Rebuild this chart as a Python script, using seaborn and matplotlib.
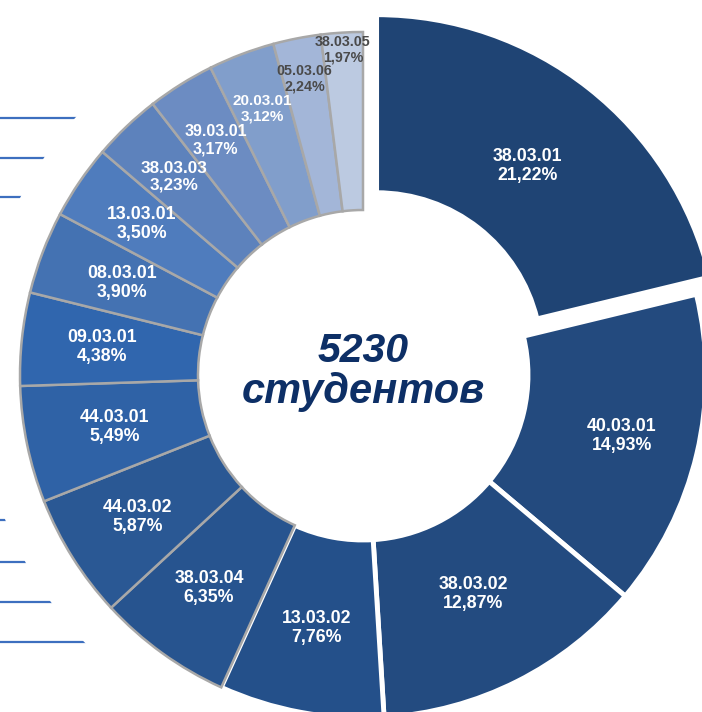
import matplotlib
matplotlib.use("Agg")
import numpy as np
import matplotlib.pyplot as plt
import seaborn as sns
from matplotlib.patches import Circle

# ---- data ----
codes = ["38.03.01", "40.03.01", "38.03.02", "13.03.02", "38.03.04", "44.03.02",
         "44.03.01", "09.03.01", "08.03.01", "13.03.01", "38.03.03", "39.03.01",
         "20.03.01", "05.03.06", "38.03.05"]
shares = [21.22, 14.93, 12.87, 7.76, 6.35, 5.87, 5.49, 4.38, 3.90, 3.50,
          3.23, 3.17, 3.12, 2.24, 1.97]
total_students = 5230
center_word = "студентов"

# ---- style ----
sns.set_theme(style="white")
plt.rcParams["font.family"] = ["Liberation Sans", "DejaVu Sans"]

palette = sns.color_palette([
    "#1f4474", "#234a7e", "#234b80", "#24508a", "#27548f", "#2a5894",
    "#2f62a6", "#3066ae", "#4472b2", "#4f7cbd", "#5d82bc", "#6c8cc2",
    "#819ecb", "#a3b6d8", "#bccae1"])
label_r = [244, 266, 245, 257, 263, 266, 254, 262, 258, 268, 274, 277, 285, 302, 326]
label_fs = [12.8] * 10 + [12.3, 11.5, 11, 10.3, 10.3]
label_col = ["white"] * 13 + ["#4a4a4a", "#4a4a4a"]

fig = plt.figure(figsize=(7.02, 7.12), dpi=100)
ax = fig.add_axes([0, 0, 1, 1])

cx, cy = 363, 712 - 375
R, W = 343, 178
explode = [22] + [0] * (len(shares) - 1)

# decorative slide lines on the left
deco_y = [118, 158, 197, 520, 562, 602, 642]
for yy in deco_y:
    ax.plot([0, cx], [712 - yy, 712 - yy], color="#3d6fbf", lw=1.6, zorder=1)
ax.add_patch(Circle((cx, cy), 386, facecolor="white", edgecolor="none", zorder=1.5))

wedges, _ = ax.pie(shares, radius=R, center=(cx, cy), startangle=90,
                   counterclock=False, colors=palette, explode=explode,
                   wedgeprops=dict(width=W))
for i, w in enumerate(wedges):
    w.set_zorder(3)
    if i < 4:
        w.set_edgecolor("white")
        w.set_linewidth(3.5)
    else:
        w.set_edgecolor("#a8a8a8")
        w.set_linewidth(1.8)
    th = np.deg2rad((w.theta1 + w.theta2) / 2)
    x0, y0 = w.center
    pct = f"{shares[i]:.2f}".replace(".", ",") + "%"
    ax.text(x0 + label_r[i] * np.cos(th), y0 + label_r[i] * np.sin(th),
            f"{codes[i]}\n{pct}",
            ha="center", va="center", fontsize=label_fs[i], fontweight="bold",
            color=label_col[i], zorder=5, linespacing=1.15)

ax.text(cx, 712 - 362, str(total_students), ha="center", va="baseline",
        fontsize=29.5, fontweight="bold", fontstyle="italic", color="#0d2f66", zorder=5)
ax.text(cx, 712 - 403, center_word, ha="center", va="baseline",
        fontsize=30, fontweight="bold", fontstyle="italic", color="#0d2f66", zorder=5)

ax.set_xlim(0, 702)
ax.set_ylim(0, 712)
ax.set_aspect("equal")
ax.axis("off")
fig.savefig("out.png", dpi=100)
